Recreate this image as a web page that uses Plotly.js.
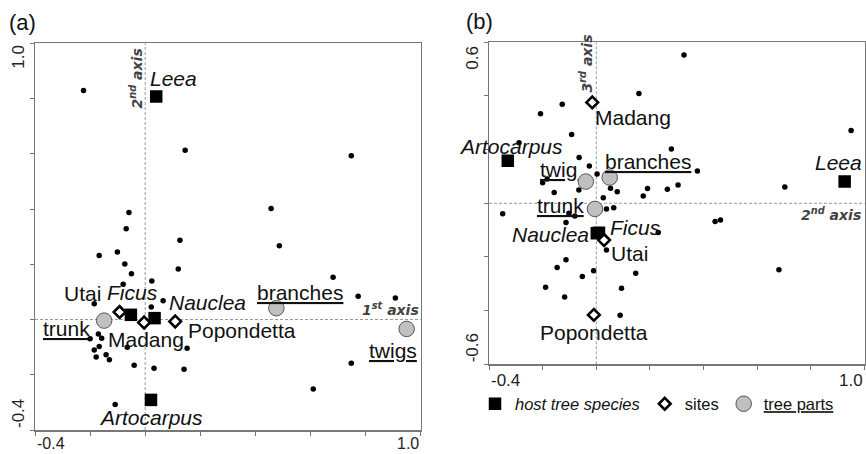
<!DOCTYPE html>
<html>
<head>
<meta charset="utf-8">
<script src="https://cdn.plot.ly/plotly-3.0.1.min.js"></script>
<style>
  html, body { margin: 0; padding: 0; background: #fff; }
  #chart { width: 866px; height: 454px; }
</style>
</head>
<body>
<div id="chart"></div>
<script>
// ---------- Panel (a): 1st axis (x) vs 2nd axis (y) ----------
const speciesAx = [-0.224, 0.145, 0.748, 0.457, 0.487, -0.059, -0.069, 0.126, -0.167, -0.101,
  -0.074, 0.120, -0.050, 0.682, -0.080, 0.024, 0.773, 0.908, 0.065, -0.185,
  0.022, -0.170, -0.158, -0.200, -0.185, -0.167, -0.178, -0.142, -0.130, -0.065,
  0.152, -0.040, 0.032, 0.141, -0.109, 0.748, 0.610];
const speciesAy = [0.829, 0.613, 0.593, 0.402, 0.267, 0.387, 0.329, 0.287, 0.232, 0.244,
  0.201, 0.183, 0.166, 0.153, 0.128, 0.139, 0.084, 0.078, 0.068, 0.057,
  0.045, -0.052, -0.068, -0.070, -0.110, -0.098, -0.136, -0.128, -0.146, -0.100,
  -0.104, -0.166, -0.176, -0.180, -0.308, -0.158, -0.252];

const hostNamesA = ['Leea', 'Artocarpus', 'Ficus', 'Nauclea'];
const hostAx = [0.040, 0.021, -0.052, 0.034];
const hostAy = [0.807, -0.291, 0.017, 0.005];

const siteNamesA = ['Utai', 'Madang', 'Popondetta'];
const siteAx = [-0.093, -0.004, 0.109];
const siteAy = [0.027, -0.011, -0.007];

const partNamesA = ['trunk', 'branches', 'twigs'];
const partAx = [-0.149, 0.476, 0.949];
const partAy = [-0.004, 0.041, -0.034];

// ---------- Panel (b): 2nd axis (x) vs 3rd axis (y) ----------
const speciesBx = [0.327, 0.159, -0.127, -0.208, 0.950, -0.092, -0.288, 0.280, -0.064, -0.026,
  0.377, 0.003, -0.183, -0.200, 0.703, 0.305, 0.265, 0.191, 0.053, 0.078,
  -0.065, -0.157, 0.175, 0.026, -0.349, 0.038, 0.065, -0.102, -0.080, -0.113,
  0.443, 0.463, 0.231, 0.038, -0.113, -0.146, -0.010, 0.147, -0.052, 0.681,
  -0.189, 0.094, -0.118, 0.089];
const speciesBy = [0.553, 0.409, 0.369, 0.334, 0.271, 0.256, 0.226, 0.202, 0.171, 0.139,
  0.120, 0.109, 0.091, 0.077, 0.061, 0.068, 0.052, 0.055, 0.056, 0.043,
  0.050, 0.040, 0.027, 0.021, -0.039, -0.021, -0.017, -0.037, -0.047, -0.072,
  -0.068, -0.062, -0.109, -0.174, -0.210, -0.239, -0.251, -0.261, -0.273, -0.248,
  -0.313, -0.317, -0.349, -0.417];

const hostNamesB = ['Artocarpus', 'Leea', 'Ficus', 'Nauclea'];
const hostBx = [-0.330, 0.926, 0.010, 0.002];
const hostBy = [0.159, 0.081, -0.110, -0.112];

const siteNamesB = ['Madang', 'Utai', 'Popondetta'];
const siteBx = [-0.015, 0.029, -0.009];
const siteBy = [0.376, -0.137, -0.416];

const partNamesB = ['twig', 'branches', 'trunk'];
const partBx = [-0.039, 0.050, -0.005];
const partBy = [0.081, 0.096, -0.021];

// tick values / labels
const tickValsX = [-0.4, -0.2, 0, 0.2, 0.4, 0.6, 0.8, 1.0];
const tickValsYA = [-0.4, -0.2, 0, 0.2, 0.4, 0.6, 0.8, 1.0];
const tickValsYB = [-0.6, -0.4, -0.2, 0, 0.2, 0.4, 0.6];
const xEndLabels = ['-0.4', '1.0'];
const yEndLabelsA = ['-0.4', '1.0'];
const yEndLabelsB = ['-0.6', '0.6'];

// ---------- styles ----------
const FONT = 'Liberation Sans, Arial, sans-serif';
const dotStyle = {size: 5.5, color: '#000'};
const squareStyle = {symbol: 'square', size: 12.5, color: '#000', line: {width: 0}};
const diamondStyle = {symbol: 'diamond', size: 9, color: '#fff', line: {color: '#000', width: 2.6}};
const circleStyle = {symbol: 'circle', size: 15.5, color: '#c0c0c0', line: {color: '#555', width: 1}};

const traces = [
  {x: speciesAx, y: speciesAy, xaxis: 'x', yaxis: 'y', type: 'scatter', mode: 'markers', marker: dotStyle, showlegend: false},
  {x: partAx, y: partAy, xaxis: 'x', yaxis: 'y', type: 'scatter', mode: 'markers', marker: circleStyle, showlegend: false},
  {x: hostAx, y: hostAy, xaxis: 'x', yaxis: 'y', type: 'scatter', mode: 'markers', marker: squareStyle, showlegend: false},
  {x: siteAx, y: siteAy, xaxis: 'x', yaxis: 'y', type: 'scatter', mode: 'markers', marker: diamondStyle, showlegend: false},

  {x: speciesBx, y: speciesBy, xaxis: 'x2', yaxis: 'y2', type: 'scatter', mode: 'markers', marker: dotStyle, showlegend: false},
  {x: hostBx, y: hostBy, xaxis: 'x2', yaxis: 'y2', type: 'scatter', mode: 'markers', marker: squareStyle, name: '<i>host tree species</i>'},
  {x: siteBx, y: siteBy, xaxis: 'x2', yaxis: 'y2', type: 'scatter', mode: 'markers', marker: diamondStyle, name: 'sites'},
  {x: partBx, y: partBy, xaxis: 'x2', yaxis: 'y2', type: 'scatter', mode: 'markers', marker: circleStyle, name: '<u>tree parts</u>'}
];

// ---------- label annotations (offsets in px from their marker) ----------
const ann = [];
function lab(xref, yref, x, y, text, dx, dy, italic, underline) {
  let t = text;
  if (italic) t = '<i>' + t + '</i>';
  if (underline) t = '<u>' + t + '</u>';
  ann.push({xref: xref, yref: yref, x: x, y: y, text: t, showarrow: false,
    xanchor: 'center', yanchor: 'middle', xshift: dx, yshift: dy,
    font: {family: FONT, size: 21, color: '#111'}});
}
// panel (a)
const hostOffA = [[17, 18], [0, -18], [2, 22], [53, 16]];
hostNamesA.forEach((n, i) => lab('x', 'y', hostAx[i], hostAy[i], n, hostOffA[i][0], hostOffA[i][1], true, false));
const siteOffA = [[-37, 19], [2, -17], [67, -9]];
siteNamesA.forEach((n, i) => lab('x', 'y', siteAx[i], siteAy[i], n, siteOffA[i][0], siteOffA[i][1], false, false));
const partOffA = [[-38, -8], [24, 16], [-14, -22]];
partNamesA.forEach((n, i) => lab('x', 'y', partAx[i], partAy[i], n, partOffA[i][0], partOffA[i][1], false, true));
// panel (b)
const hostOffB = [[3, 14], [-6, 19], [37, 5], [-46, -1]];
hostNamesB.forEach((n, i) => lab('x2', 'y2', hostBx[i], hostBy[i], n, hostOffB[i][0], hostOffB[i][1], true, false));
const siteOffB = [[41, -15], [25, -13], [0, -18]];
siteNamesB.forEach((n, i) => lab('x2', 'y2', siteBx[i], siteBy[i], n, siteOffB[i][0], siteOffB[i][1], false, false));
const partOffB = [[-27, 12], [38, 16], [-34, 3]];
partNamesB.forEach((n, i) => lab('x2', 'y2', partBx[i], partBy[i], n, partOffB[i][0], partOffB[i][1], false, true));

// axis names on dashed lines
const axFont = {family: 'DejaVu Sans, sans-serif', size: 14, color: '#444', weight: 'bold', style: 'italic'};
ann.push({xref: 'x', yref: 'y', x: 1.0, y: 0, text: '1<sup>st</sup> axis', showarrow: false, xanchor: 'right', yanchor: 'bottom', yshift: 0, font: axFont});
ann.push({xref: 'x', yref: 'y domain', x: 0, y: 1, text: '2<sup>nd</sup> axis', showarrow: false, xanchor: 'right', yanchor: 'top', textangle: -90, xshift: 2, yshift: -3, font: axFont});
ann.push({xref: 'x2', yref: 'y2', x: 1.0, y: 0, text: '2<sup>nd</sup> axis', showarrow: false, xanchor: 'right', yanchor: 'top', xshift: -2, font: axFont});
ann.push({xref: 'x2', yref: 'y2 domain', x: 0, y: 1, text: '3<sup>rd</sup> axis', showarrow: false, xanchor: 'right', yanchor: 'top', textangle: -90, xshift: 1, yshift: 10, font: axFont});

// panel letters
ann.push({xref: 'paper', yref: 'paper', x: 22 / 866, y: 1 - 22 / 454, text: '(a)', showarrow: false, xanchor: 'center', yanchor: 'middle', font: {family: FONT, size: 22, color: '#111'}});
ann.push({xref: 'paper', yref: 'paper', x: 479 / 866, y: 1 - 21 / 454, text: '(b)', showarrow: false, xanchor: 'center', yanchor: 'middle', font: {family: FONT, size: 22, color: '#111'}});

// end tick labels
const tickFont = {family: FONT, size: 17, color: '#222'};
const tickFontA = {family: FONT, size: 16, color: '#222'};
// panel (a) x labels sit at the very bottom of the page
ann.push({xref: 'x', yref: 'paper', x: tickValsX[0], y: 0, text: xEndLabels[0], showarrow: false, xanchor: 'left', yanchor: 'bottom', yshift: 0, font: tickFontA});
ann.push({xref: 'x', yref: 'paper', x: tickValsX[tickValsX.length - 1], y: 0, text: xEndLabels[1], showarrow: false, xanchor: 'right', yanchor: 'bottom', yshift: 0, font: tickFontA});
ann.push({xref: 'x2', yref: 'y2 domain', x: tickValsX[0], y: 0, text: xEndLabels[0], showarrow: false, xanchor: 'left', yanchor: 'top', yshift: -5, font: tickFont});
ann.push({xref: 'x2', yref: 'y2 domain', x: tickValsX[tickValsX.length - 1], y: 0, text: xEndLabels[1], showarrow: false, xanchor: 'right', yanchor: 'top', yshift: -5, font: tickFont});
ann.push({xref: 'x domain', yref: 'y', x: 0, y: tickValsYA[0], text: yEndLabelsA[0], showarrow: false, xanchor: 'right', yanchor: 'bottom', textangle: -90, xshift: -5, font: tickFont});
ann.push({xref: 'x domain', yref: 'y', x: 0, y: tickValsYA[tickValsYA.length - 1], text: yEndLabelsA[1], showarrow: false, xanchor: 'right', yanchor: 'top', textangle: -90, xshift: -5, font: tickFont});
ann.push({xref: 'x2 domain', yref: 'y2', x: 0, y: tickValsYB[0], text: yEndLabelsB[0], showarrow: false, xanchor: 'right', yanchor: 'bottom', textangle: -90, xshift: -5, font: tickFont});
ann.push({xref: 'x2 domain', yref: 'y2', x: 0, y: tickValsYB[tickValsYB.length - 1], text: yEndLabelsB[1], showarrow: false, xanchor: 'right', yanchor: 'top', textangle: -90, xshift: -5, yshift: -2, font: tickFont});

// dashed zero lines
const dash = {color: '#999', width: 1, dash: '3px,2px'};
const shapes = [
  {type: 'line', xref: 'x', yref: 'y domain', x0: 0, x1: 0, y0: 0, y1: 1, line: dash, layer: 'below'},
  {type: 'line', xref: 'x domain', yref: 'y', x0: 0, x1: 1, y0: 0, y1: 0, line: dash, layer: 'below'},
  {type: 'line', xref: 'x2', yref: 'y2 domain', x0: 0, x1: 0, y0: 0, y1: 1, line: dash, layer: 'below'},
  {type: 'line', xref: 'x2 domain', yref: 'y2', x0: 0, x1: 1, y0: 0, y1: 0, line: dash, layer: 'below'}
];

const axBase = {showgrid: false, zeroline: false, showline: true, mirror: true, linecolor: '#777', linewidth: 1.5,
  ticks: 'outside', ticklen: 4, tickcolor: '#777', tickwidth: 1, showticklabels: false, tickmode: 'array', fixedrange: true};

const layout = {
  width: 866, height: 454,
  margin: {l: 0, r: 0, t: 0, b: 0},
  paper_bgcolor: '#fff', plot_bgcolor: '#fff',
  font: {family: FONT, color: '#111'},
  showlegend: true,
  legend: {orientation: 'h', x: 475 / 866, xanchor: 'left', y: 1 - 404 / 454, yanchor: 'middle',
    font: {family: FONT, size: 16.5, color: '#111'}, bgcolor: 'rgba(0,0,0,0)', itemclick: false},
  xaxis: Object.assign({}, axBase, {domain: [35 / 866, 420.7 / 866], range: [-0.4, 1.0], tickvals: tickValsX, anchor: 'y'}),
  yaxis: Object.assign({}, axBase, {domain: [1 - 430 / 454, 1 - 43.3 / 454], range: [-0.4, 1.0], tickvals: tickValsYA, anchor: 'x'}),
  xaxis2: Object.assign({}, axBase, {domain: [489 / 866, 864.5 / 866], range: [-0.4, 1.0], tickvals: tickValsX, anchor: 'y2'}),
  yaxis2: Object.assign({}, axBase, {domain: [1 - 364.3 / 454, 1 - 42.3 / 454], range: [-0.6, 0.6], tickvals: tickValsYB, anchor: 'x2'}),
  annotations: ann,
  shapes: shapes
};

Plotly.newPlot('chart', traces, layout, {staticPlot: true, displayModeBar: false});
</script>
</body>
</html>
